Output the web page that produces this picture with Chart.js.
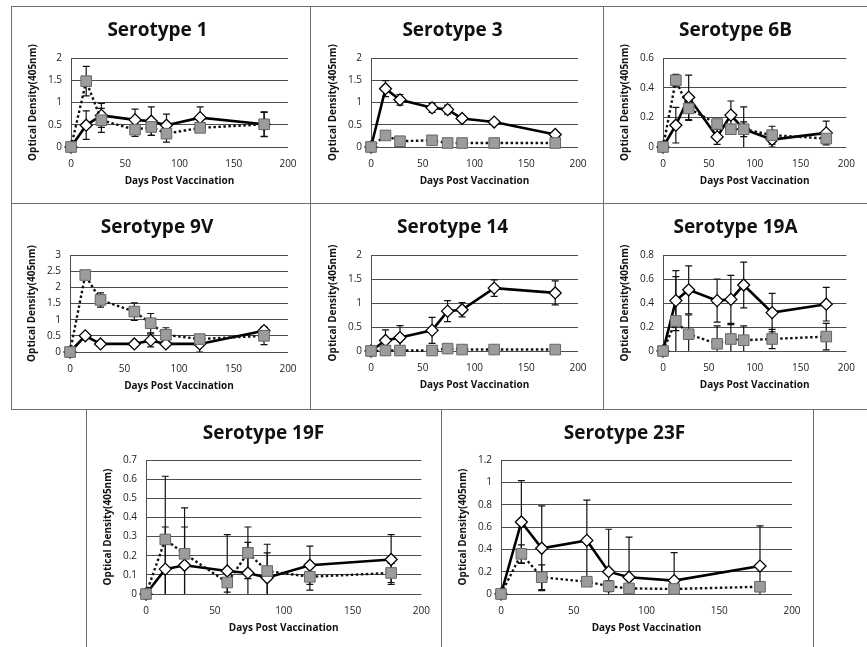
<!DOCTYPE html>
<html>
<head>
<meta charset="utf-8">
<script src="https://cdn.jsdelivr.net/npm/chart.js@4"></script>
<style>
  body { margin: 0; background: #fff; width: 867px; height: 647px; position: relative; overflow: hidden; }
  canvas, .box { position: absolute; }
  .box { border: 1.5px solid #6e6e6e; box-sizing: border-box; pointer-events: none; }
</style>
</head>
<body>
<script>
// DATA
const days = [0, 14, 28, 59, 74, 88, 119, 178];
const xTicks = [0, 50, 100, 150, 200];
const titles = ['Serotype 1', 'Serotype 3', 'Serotype 6B', 'Serotype 9V', 'Serotype 14', 'Serotype 19A', 'Serotype 19F', 'Serotype 23F'];
const yMax = [2, 2, 0.6, 3, 2, 0.8, 0.7, 1.2];
const yStep = [0.5, 0.5, 0.2, 0.5, 0.5, 0.2, 0.1, 0.2];

// solid line, white diamonds
const solid1 = [0, 0.49, 0.71, 0.61, 0.58, 0.49, 0.66, 0.51];
const solid3 = [0, 1.31, 1.06, 0.88, 0.84, 0.64, 0.56, 0.28];
const solid6B = [0, 0.147, 0.335, 0.068, 0.215, 0.12, 0.05, 0.095];
const solid9V = [0, 0.50, 0.25, 0.25, 0.36, 0.25, 0.25, 0.66];
const solid14 = [0, 0.22, 0.28, 0.43, 0.83, 0.86, 1.31, 1.21];
const solid19A = [0, 0.42, 0.51, 0.42, 0.43, 0.55, 0.32, 0.39];
const solid19F = [0, 0.13, 0.15, 0.12, 0.11, 0.085, 0.15, 0.18];
const solid23F = [0, 0.645, 0.41, 0.48, 0.20, 0.15, 0.12, 0.25];

const solidErr1 = [0, 0.32, 0.27, 0.24, 0.32, 0.25, 0.24, 0.28];
const solidErr3 = [0, 0.18, 0.12, 0.10, 0.10, 0.03, 0.02, 0.03];
const solidErr6B = [0, 0.12, 0.15, 0.05, 0.095, 0.05, 0.05, 0.08];
const solidErr9V = [0, 0.05, 0.05, 0.08, 0.20, 0.05, 0.25, 0.10];
const solidErr14 = [0, 0.22, 0.25, 0.27, 0.22, 0.15, 0.17, 0.25];
const solidErr19A = [0, 0.25, 0.20, 0.18, 0.20, 0.19, 0.16, 0.14];
const solidErr19F = [0, 0.22, 0.20, 0.19, 0.16, 0.13, 0.10, 0.13];
const solidErr23F = [0, 0.37, 0.38, 0.36, 0.38, 0.36, 0.25, 0.36];

// dotted line, grey squares
const dotted1 = [0, 1.48, 0.60, 0.39, 0.45, 0.30, 0.43, 0.51];
const dotted3 = [0, 0.26, 0.13, 0.15, 0.09, 0.09, 0.09, 0.09];
const dotted6B = [0, 0.45, 0.26, 0.155, 0.12, 0.12, 0.08, 0.057];
const dotted9V = [0, 2.38, 1.61, 1.25, 0.89, 0.53, 0.40, 0.50];
const dotted14 = [0, 0.01, 0.01, 0.01, 0.05, 0.03, 0.03, 0.03];
const dotted19A = [0, 0.25, 0.14, 0.06, 0.10, 0.09, 0.10, 0.12];
const dotted19F = [0, 0.285, 0.21, 0.06, 0.215, 0.12, 0.09, 0.11];
const dotted23F = [0, 0.36, 0.15, 0.11, 0.07, 0.05, 0.045, 0.065];

const dottedErr1 = [0, 0.33, 0.27, 0.15, 0.19, 0.19, 0.05, 0.27];
const dottedErr3 = [0, 0.03, 0.02, 0.02, 0.01, 0.01, 0.01, 0.01];
const dottedErr6B = [0, 0.04, 0.08, 0.03, 0.03, 0.15, 0.06, 0.02];
const dottedErr9V = [0, 0.05, 0.22, 0.27, 0.30, 0.22, 0.10, 0.27];
const dottedErr14 = [0, 0.01, 0.01, 0.01, 0.01, 0.01, 0.01, 0.01];
const dottedErr19A = [0, 0.37, 0.16, 0.15, 0.12, 0.12, 0.08, 0.11];
const dottedErr19F = [0, 0.33, 0.24, 0.05, 0.135, 0.14, 0.07, 0.05];
const dottedErr23F = [0, 0.08, 0.11, 0.02, 0.05, 0.02, 0.02, 0.02];

const solidData = [solid1, solid3, solid6B, solid9V, solid14, solid19A, solid19F, solid23F];
const solidErrs = [solidErr1, solidErr3, solidErr6B, solidErr9V, solidErr14, solidErr19A, solidErr19F, solidErr23F];
const dottedData = [dotted1, dotted3, dotted6B, dotted9V, dotted14, dotted19A, dotted19F, dotted23F];
const dottedErrs = [dottedErr1, dottedErr3, dottedErr6B, dottedErr9V, dottedErr14, dottedErr19A, dottedErr19F, dottedErr23F];

// LAYOUT (panel boxes and plot areas, page pixels)
const boxes = [[11, 6, 310, 203], [310, 6, 603, 203], [603, 6, 866, 203],
               [11, 203, 310, 409], [310, 203, 603, 409], [603, 203, 866, 409],
               [86, 409, 441, 647], [441, 409, 813, 647]];
const areas = [[71, 58, 288, 147], [371, 58, 578, 147], [663, 58, 852, 147],
               [70, 255, 288, 352], [371, 255, 578, 351], [663, 255, 852, 351],
               [146, 460, 425, 594], [501, 460, 792, 594]];

const FONT = "'Open Sans', sans-serif";
const Y_AXIS_W = 44;
const X_AXIS_H = 40;
const TITLE_SIZE = 19;

// error bars drawn from the dataset's errors array through the chart scales
const errorBars = {
  id: 'errorBars',
  beforeDatasetsDraw(chart) {
    const ctx = chart.ctx;
    const area = chart.chartArea;
    const xs = chart.scales.x, ys = chart.scales.y;
    ctx.save();
    ctx.beginPath();
    ctx.rect(area.left, area.top - 1, area.right - area.left, area.bottom - area.top + 1);
    ctx.clip();
    ctx.strokeStyle = '#111';
    ctx.lineWidth = 1.2;
    chart.data.datasets.forEach(ds => {
      if (!ds.errors) return;
      ds.data.forEach((p, k) => {
        const e = ds.errors[k];
        if (!e) return;
        const x = xs.getPixelForValue(p.x);
        const yTop = ys.getPixelForValue(p.y + e);
        const yBot = ys.getPixelForValue(p.y - e);
        ctx.beginPath();
        ctx.moveTo(x, yTop); ctx.lineTo(x, yBot);
        ctx.moveTo(x - 3.5, yTop); ctx.lineTo(x + 3.5, yTop);
        ctx.moveTo(x - 3.5, yBot); ctx.lineTo(x + 3.5, yBot);
        ctx.stroke();
      });
    });
    ctx.restore();
  }
};

// tick labels like "0", "0.5", "1", "1.2"
function shortNumber(v) {
  return String(parseFloat(Number(v).toFixed(3)));
}

function makeChart(i) {
  const [bx0, by0, bx1, by1] = boxes[i];
  const [ax0, ay0, ax1, ay1] = areas[i];
  const w = bx1 - bx0, h = by1 - by0;

  const canvas = document.createElement('canvas');
  canvas.width = w;
  canvas.height = h;
  canvas.style.left = bx0 + 'px';
  canvas.style.top = by0 + 'px';
  document.body.appendChild(canvas);

  const box = document.createElement('div');
  box.className = 'box';
  box.style.left = bx0 + 'px';
  box.style.top = by0 + 'px';
  box.style.width = (bx1 === 866 ? 870 - bx0 : w + 1) + 'px';
  box.style.height = (by1 === 647 ? 660 - by0 : h + 1) + 'px';
  document.body.appendChild(box);

  const titleTop = 25 - TITLE_SIZE * 1.2 / 2;

  new Chart(canvas.getContext('2d'), {
    type: 'line',
    data: {
      datasets: [
        {
          label: 'dotted',
          data: days.map((d, k) => ({ x: d, y: dottedData[i][k] })),
          errors: dottedErrs[i],
          order: 0,
          borderColor: '#111',
          borderWidth: 2.4,
          borderDash: [2.5, 2.5],
          pointStyle: 'rect',
          pointRadius: 7.5,
          pointBackgroundColor: '#9c9c9c',
          pointBorderColor: '#666',
          pointBorderWidth: 1,
          tension: 0,
          clip: false
        },
        {
          label: 'solid',
          data: days.map((d, k) => ({ x: d, y: solidData[i][k] })),
          errors: solidErrs[i],
          order: 1,
          borderColor: '#000',
          borderWidth: 2.6,
          pointStyle: 'rectRot',
          pointRadius: 6,
          pointBackgroundColor: '#fff',
          pointBorderColor: '#000',
          pointBorderWidth: 1.3,
          tension: 0,
          clip: false
        }
      ]
    },
    options: {
      responsive: false,
      animation: false,
      devicePixelRatio: 1,
      events: [],
      layout: {
        padding: { left: ax0 - bx0 - Y_AXIS_W, right: bx1 - ax1, top: 0, bottom: by1 - ay1 - X_AXIS_H }
      },
      plugins: {
        legend: { display: false },
        tooltip: { enabled: false },
        title: {
          display: true,
          text: titles[i],
          color: '#111',
          font: { family: FONT, size: TITLE_SIZE, weight: 'bold', lineHeight: 1.2 },
          padding: { top: titleTop, bottom: (ay0 - by0) - titleTop - TITLE_SIZE * 1.2 }
        }
      },
      scales: {
        x: {
          type: 'linear',
          min: 0,
          max: 200,
          afterBuildTicks: s => { s.ticks = xTicks.map(v => ({ value: v })); },
          afterFit: s => { s.height = X_AXIS_H; },
          grid: { display: false, drawTicks: false },
          border: { display: false },
          ticks: { padding: 11, maxRotation: 0, color: '#222', font: { family: FONT, size: 10 } },
          title: {
            display: true,
            text: 'Days Post Vaccination',
            color: '#111',
            padding: 0,
            font: { family: FONT, size: 10, weight: 'bold', lineHeight: 1.2 }
          }
        },
        y: {
          min: 0,
          max: yMax[i],
          afterFit: s => { s.width = Y_AXIS_W; },
          grid: { color: '#4d4d4d', lineWidth: 1, drawTicks: false },
          border: { display: true, color: '#4d4d4d', width: 1 },
          ticks: { stepSize: yStep[i], padding: 9, color: '#222', font: { family: FONT, size: 10 }, callback: shortNumber },
          title: {
            display: true,
            text: 'Optical Density(405nm)',
            color: '#111',
            padding: 0,
            font: { family: FONT, size: 10, weight: 'bold', lineHeight: 1.2 }
          }
        }
      }
    },
    plugins: [errorBars]
  });
}

for (let i = 0; i < titles.length; i++) {
  makeChart(i);
}
</script>
</body>
</html>
